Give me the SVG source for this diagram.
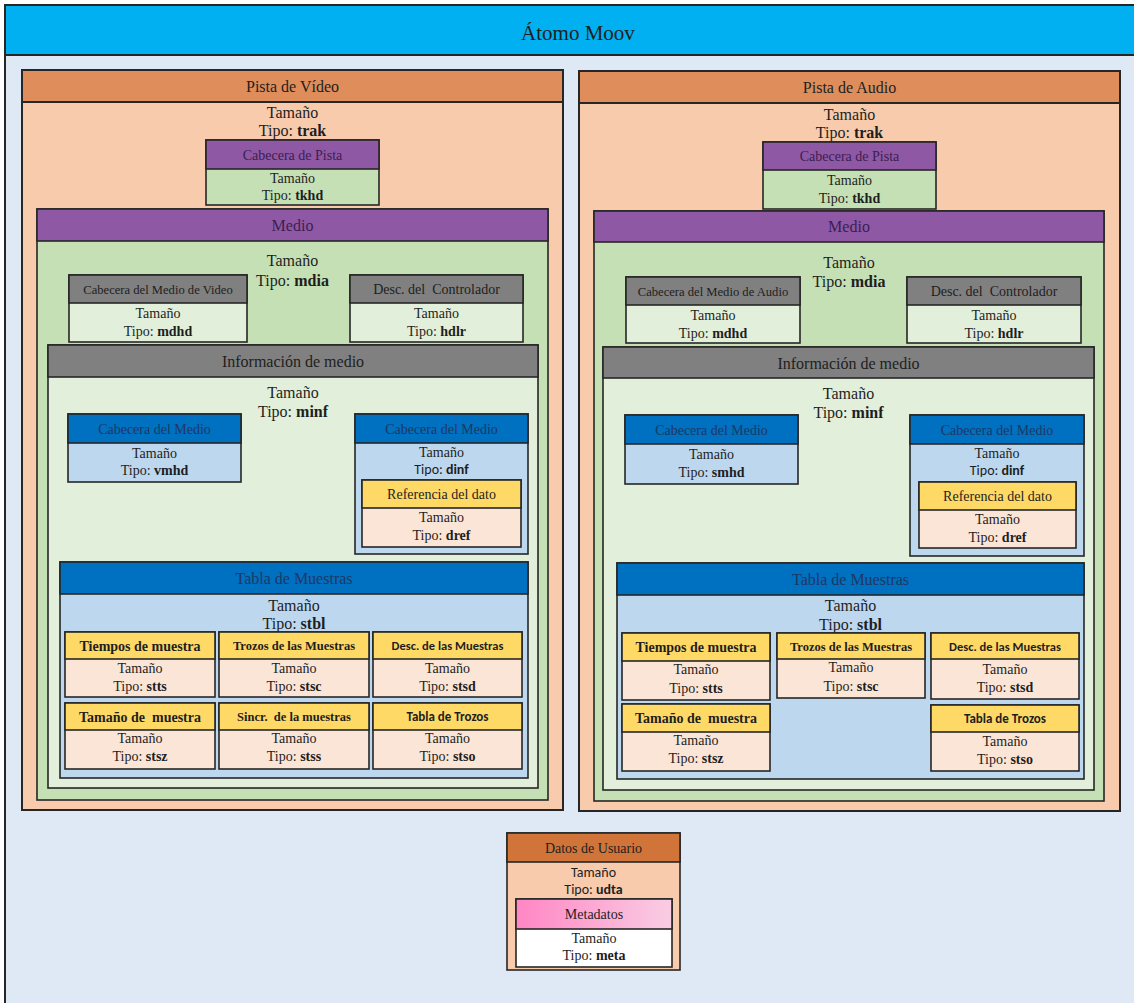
<svg xmlns="http://www.w3.org/2000/svg" width="1134" height="1003" viewBox="0 0 1134 1003" font-family="'Liberation Serif', 'Times New Roman', 'DejaVu Serif', serif">
<defs>
<linearGradient id="pink" x1="0" y1="0" x2="1" y2="0">
<stop offset="0" stop-color="#ff86c4"/>
<stop offset="1" stop-color="#f9cde3"/>
</linearGradient>
</defs>
<style>
rect{stroke:#262626;stroke-width:1.6}
.thick{stroke-width:2}
text{text-anchor:middle;fill:#1e1e1e}
.s{font-family:Carlito,Lato,'Liberation Sans',sans-serif}
.f20{font-size:21px}.f16{font-size:16px}.f13{font-size:14px}.f12{font-size:12.6px}.f115{font-size:12.5px}.f13x{font-size:13px}
.b{font-weight:bold}
.pt{fill:#3a2050}.nv{fill:#1f3864}
.cyan{fill:#00b0f0}.bg{fill:#dfe9f5}
.org{fill:#df8d5b}.pch{fill:#f8cbad}
.pur{fill:#8f58a5}.grn{fill:#c5e0b4}
.gry{fill:#808080}.lgr{fill:#e2efda}
.blu{fill:#0070c0}.lbl{fill:#bdd7ee}
.gld{fill:#ffd966}.lpc{fill:#fbe5d6}
.uor{fill:#d0743a}.wht{fill:#ffffff}
</style>

<g id="moov">
<rect class="bg thick" x="5" y="5" width="1140" height="1010"/>
<rect class="cyan thick" x="5" y="5" width="1140" height="50"/>
<text class="f20" x="578" y="40">Átomo Moov</text>
</g>

<!-- VIDEO TRACK -->
<g id="trak-video">
<rect class="pch thick" x="22" y="70" width="541" height="740"/>
<rect class="org thick" x="22" y="70" width="541" height="32"/>
<text class="f16" x="292.5" y="91.5">Pista de Vídeo</text>
<text class="f16" x="292.5" y="117.5">Tamaño</text>
<text class="f16" x="292.5" y="135.5">Tipo: <tspan class="b">trak</tspan></text>
</g>
<g id="tkhd-video">
<rect class="grn" x="206" y="140" width="173" height="65"/>
<rect class="pur" x="206" y="140" width="173" height="29"/>
<text class="f13 pt" x="292.5" y="159.5">Cabecera de Pista</text>
<text class="f13" x="292.5" y="182.5">Tamaño</text>
<text class="f13" x="292.5" y="200">Tipo: <tspan class="b">tkhd</tspan></text>
</g>
<g id="mdia-video">
<rect class="grn" x="37" y="209" width="511" height="591"/>
<rect class="pur" x="37" y="209" width="511" height="32"/>
<text class="f16 pt" x="292.5" y="230.5">Medio</text>
<text class="f16" x="292.5" y="265.5">Tamaño</text>
<text class="f16" x="292.5" y="285.5">Tipo: <tspan class="b">mdia</tspan></text>
</g>
<g id="mdhd-video">
<rect class="lgr" x="69" y="275" width="178" height="67"/>
<rect class="gry" x="69" y="275" width="178" height="28"/>
<text class="f12" x="158" y="293.5">Cabecera del Medio de Video</text>
<text class="f13" x="158" y="317.5">Tamaño</text>
<text class="f13" x="158" y="336">Tipo: <tspan class="b">mdhd</tspan></text>
</g>
<g id="hdlr-video">
<rect class="lgr" x="350" y="275" width="173" height="67"/>
<rect class="gry" x="350" y="275" width="173" height="28"/>
<text class="f13" x="436.5" y="294" xml:space="preserve">Desc. del  Controlador</text>
<text class="f13" x="436.5" y="317.5">Tamaño</text>
<text class="f13" x="436.5" y="336">Tipo: <tspan class="b">hdlr</tspan></text>
</g>
<g id="minf-video">
<rect class="lgr" x="48" y="345" width="490" height="443"/>
<rect class="gry" x="48" y="345" width="490" height="32"/>
<text class="f16" x="293" y="366.5">Información de medio</text>
<text class="f16" x="293" y="397.5">Tamaño</text>
<text class="f16" x="293" y="416.5">Tipo: <tspan class="b">minf</tspan></text>
</g>
<g id="vmhd-video">
<rect class="lbl" x="68" y="414" width="173" height="68"/>
<rect class="blu" x="68" y="414" width="173" height="29"/>
<text class="f13 nv" x="154.5" y="433.5">Cabecera del Medio</text>
<text class="f13" x="154.5" y="457.5">Tamaño</text>
<text class="f13" x="154.5" y="475">Tipo: <tspan class="b">vmhd</tspan></text>
</g>
<g id="dinf-video">
<rect class="lbl" x="355" y="414" width="173" height="140"/>
<rect class="blu" x="355" y="414" width="173" height="29"/>
<text class="f13 nv" x="441.5" y="433.5">Cabecera del Medio</text>
<text class="f13" x="441.5" y="456.5">Tamaño</text>
<text class="f13 s" x="441.5" y="474">Tipo: <tspan class="b">dinf</tspan></text>
</g>
<g id="dref-video">
<rect class="lpc" x="362" y="480" width="159" height="67"/>
<rect class="gld" x="362" y="480" width="159" height="28"/>
<text class="f13" x="441.5" y="499">Referencia del dato</text>
<text class="f13" x="441.5" y="521.5">Tamaño</text>
<text class="f13" x="441.5" y="540">Tipo: <tspan class="b">dref</tspan></text>
</g>
<g id="stbl-video">
<rect class="lbl" x="60" y="562" width="468" height="216"/>
<rect class="blu" x="60" y="562" width="468" height="32"/>
<text class="f16 nv" x="294" y="583.5">Tabla de Muestras</text>
<text class="f16" x="294" y="610.5">Tamaño</text>
<text class="f16" x="294" y="628.5">Tipo: <tspan class="b">stbl</tspan></text>
</g>
<g id="stts-video">
<rect class="lpc" x="65" y="632" width="150" height="65"/>
<rect class="gld" x="65" y="632" width="150" height="27"/>
<text class="f13 b" x="140" y="650.5">Tiempos de muestra</text>
<text class="f13" x="140" y="672.5">Tamaño</text>
<text class="f13" x="140" y="691">Tipo: <tspan class="b">stts</tspan></text>
</g>
<g id="stsc-video">
<rect class="lpc" x="219" y="632" width="150" height="65"/>
<rect class="gld" x="219" y="632" width="150" height="27"/>
<text class="f115 b" x="294" y="649.5">Trozos de las Muestras</text>
<text class="f13" x="294" y="672.5">Tamaño</text>
<text class="f13" x="294" y="691">Tipo: <tspan class="b">stsc</tspan></text>
</g>
<g id="stsd-video">
<rect class="lpc" x="373" y="632" width="149" height="65"/>
<rect class="gld" x="373" y="632" width="149" height="27"/>
<text class="f115 b s" x="447.5" y="649.5">Desc. de las Muestras</text>
<text class="f13" x="447.5" y="672.5">Tamaño</text>
<text class="f13" x="447.5" y="691">Tipo: <tspan class="b">stsd</tspan></text>
</g>
<g id="stsz-video">
<rect class="lpc" x="65" y="703" width="150" height="66"/>
<rect class="gld" x="65" y="703" width="150" height="27"/>
<text class="f13 b" x="140" y="721.5" xml:space="preserve">Tamaño de  muestra</text>
<text class="f13" x="140" y="742.5">Tamaño</text>
<text class="f13" x="140" y="761">Tipo: <tspan class="b">stsz</tspan></text>
</g>
<g id="stss-video">
<rect class="lpc" x="219" y="703" width="150" height="66"/>
<rect class="gld" x="219" y="703" width="150" height="27"/>
<text class="f115 b" x="294" y="720.5" xml:space="preserve">Sincr.  de la muestras</text>
<text class="f13" x="294" y="742.5">Tamaño</text>
<text class="f13" x="294" y="761">Tipo: <tspan class="b">stss</tspan></text>
</g>
<g id="stco-video">
<rect class="lpc" x="373" y="703" width="149" height="66"/>
<rect class="gld" x="373" y="703" width="149" height="27"/>
<text class="f13x b s" x="447.5" y="721">Tabla de Trozos</text>
<text class="f13" x="447.5" y="742.5">Tamaño</text>
<text class="f13" x="447.5" y="761">Tipo: <tspan class="b">stso</tspan></text>
</g>

<!-- AUDIO TRACK -->
<g id="trak-audio">
<rect class="pch thick" x="579" y="71" width="541" height="740"/>
<rect class="org thick" x="579" y="71" width="541" height="32"/>
<text class="f16" x="849.5" y="92.5">Pista de Audio</text>
<text class="f16" x="849.5" y="119.5">Tamaño</text>
<text class="f16" x="849.5" y="137.5">Tipo: <tspan class="b">trak</tspan></text>
</g>
<g id="tkhd-audio">
<rect class="grn" x="763" y="142" width="173" height="67"/>
<rect class="pur" x="763" y="142" width="173" height="28"/>
<text class="f13 pt" x="849.5" y="161">Cabecera de Pista</text>
<text class="f13" x="849.5" y="184.5">Tamaño</text>
<text class="f13" x="849.5" y="203">Tipo: <tspan class="b">tkhd</tspan></text>
</g>
<g id="mdia-audio">
<rect class="grn" x="594" y="211" width="510" height="590"/>
<rect class="pur" x="594" y="211" width="510" height="31"/>
<text class="f16 pt" x="849" y="232">Medio</text>
<text class="f16" x="849" y="267.5">Tamaño</text>
<text class="f16" x="849" y="286.5">Tipo: <tspan class="b">mdia</tspan></text>
</g>
<g id="mdhd-audio">
<rect class="lgr" x="626" y="277" width="174" height="66"/>
<rect class="gry" x="626" y="277" width="174" height="28"/>
<text class="f12" x="713" y="295.5">Cabecera del Medio de Audio</text>
<text class="f13" x="713" y="319.5">Tamaño</text>
<text class="f13" x="713" y="338">Tipo: <tspan class="b">mdhd</tspan></text>
</g>
<g id="hdlr-audio">
<rect class="lgr" x="907" y="277" width="174" height="66"/>
<rect class="gry" x="907" y="277" width="174" height="28"/>
<text class="f13" x="994" y="296" xml:space="preserve">Desc. del  Controlador</text>
<text class="f13" x="994" y="319.5">Tamaño</text>
<text class="f13" x="994" y="338">Tipo: <tspan class="b">hdlr</tspan></text>
</g>
<g id="minf-audio">
<rect class="lgr" x="603" y="347" width="491" height="443"/>
<rect class="gry" x="603" y="347" width="491" height="31"/>
<text class="f16" x="848.5" y="368.5">Información de medio</text>
<text class="f16" x="848.5" y="398.5">Tamaño</text>
<text class="f16" x="848.5" y="417.5">Tipo: <tspan class="b">minf</tspan></text>
</g>
<g id="smhd-audio">
<rect class="lbl" x="625" y="415" width="173" height="69"/>
<rect class="blu" x="625" y="415" width="173" height="29"/>
<text class="f13 nv" x="711.5" y="434.5">Cabecera del Medio</text>
<text class="f13" x="711.5" y="458.5">Tamaño</text>
<text class="f13" x="711.5" y="477">Tipo: <tspan class="b">smhd</tspan></text>
</g>
<g id="dinf-audio">
<rect class="lbl" x="910" y="415" width="174" height="141"/>
<rect class="blu" x="910" y="415" width="174" height="29"/>
<text class="f13 nv" x="997" y="434.5">Cabecera del Medio</text>
<text class="f13" x="997" y="457.5">Tamaño</text>
<text class="f13 s" x="997" y="475">Tipo: <tspan class="b">dinf</tspan></text>
</g>
<g id="dref-audio">
<rect class="lpc" x="919" y="482" width="157" height="66"/>
<rect class="gld" x="919" y="482" width="157" height="28"/>
<text class="f13" x="997.5" y="501">Referencia del dato</text>
<text class="f13" x="997.5" y="523.5">Tamaño</text>
<text class="f13" x="997.5" y="542">Tipo: <tspan class="b">dref</tspan></text>
</g>
<g id="stbl-audio">
<rect class="lbl" x="617" y="563" width="467" height="216"/>
<rect class="blu" x="617" y="563" width="467" height="32"/>
<text class="f16 nv" x="850.5" y="584.5">Tabla de Muestras</text>
<text class="f16" x="850.5" y="610.5">Tamaño</text>
<text class="f16" x="850.5" y="629.5">Tipo: <tspan class="b">stbl</tspan></text>
</g>
<g id="stts-audio">
<rect class="lpc" x="622" y="633" width="148" height="67"/>
<rect class="gld" x="622" y="633" width="148" height="28"/>
<text class="f13 b" x="696" y="652">Tiempos de muestra</text>
<text class="f13" x="696" y="674">Tamaño</text>
<text class="f13" x="696" y="693">Tipo: <tspan class="b">stts</tspan></text>
</g>
<g id="stsc-audio">
<rect class="lpc" x="777" y="633" width="148" height="65"/>
<rect class="gld" x="777" y="633" width="148" height="26"/>
<text class="f115 b" x="851" y="650.5">Trozos de las Muestras</text>
<text class="f13" x="851" y="672">Tamaño</text>
<text class="f13" x="851" y="691">Tipo: <tspan class="b">stsc</tspan></text>
</g>
<g id="stsd-audio">
<rect class="lpc" x="931" y="633" width="148" height="66"/>
<rect class="gld" x="931" y="633" width="148" height="26"/>
<text class="f115 b s" x="1005" y="650.5">Desc. de las Muestras</text>
<text class="f13" x="1005" y="673.5">Tamaño</text>
<text class="f13" x="1005" y="691.5">Tipo: <tspan class="b">stsd</tspan></text>
</g>
<g id="stsz-audio">
<rect class="lpc" x="622" y="704" width="148" height="67"/>
<rect class="gld" x="622" y="704" width="148" height="28"/>
<text class="f13 b" x="696" y="723" xml:space="preserve">Tamaño de  muestra</text>
<text class="f13" x="696" y="744.5">Tamaño</text>
<text class="f13" x="696" y="763">Tipo: <tspan class="b">stsz</tspan></text>
</g>
<g id="stco-audio">
<rect class="lpc" x="931" y="705" width="148" height="66"/>
<rect class="gld" x="931" y="705" width="148" height="27"/>
<text class="f13x b s" x="1005" y="723">Tabla de Trozos</text>
<text class="f13" x="1005" y="745.5">Tamaño</text>
<text class="f13" x="1005" y="763.5">Tipo: <tspan class="b">stso</tspan></text>
</g>

<!-- USER DATA -->
<g id="udta">
<rect class="pch" x="507" y="833" width="173" height="137"/>
<rect class="uor" x="507" y="833" width="173" height="29"/>
<text class="f13" x="593.5" y="852.5">Datos de Usuario</text>
<text class="f13 s" x="593.5" y="877">Tamaño</text>
<text class="f13 s" x="593.5" y="894">Tipo: <tspan class="b">udta</tspan></text>
</g>
<g id="meta">
<rect class="wht" x="516" y="899" width="156" height="68"/>
<rect x="516" y="899" width="156" height="30" fill="url(#pink)"/>
<text class="f13" x="594" y="919">Metadatos</text>
<text class="f13" x="594" y="942.5">Tamaño</text>
<text class="f13" x="594" y="960">Tipo: <tspan class="b">meta</tspan></text>
</g>

<g id="connectors"/>
</svg>
